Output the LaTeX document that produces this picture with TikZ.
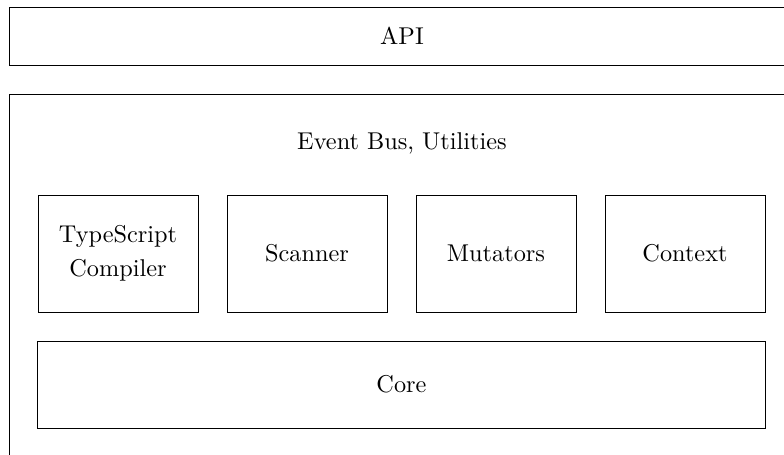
\documentclass[tikz,border=0pt]{standalone}
\usetikzlibrary{positioning}
\begin{document}
\begin{tikzpicture}[x=0.4115pt,y=-0.4115pt,
  box/.style={draw, line width=0.4pt, inner sep=0pt, align=center,
    font=\fontsize{10}{14}\selectfont},
  lbl/.style={inner sep=0pt, font=\fontsize{10}{14}\selectfont},
  comp/.style={box, minimum width=65.84pt, minimum height=48.15pt}]
\useasboundingbox (0,0) rectangle (784,455);
\clip (0,0) rectangle (784,455);
\node[box, minimum width=323.4pt, minimum height=23.87pt] (api) at (402,36) {API};
\node[box, minimum width=323.4pt, minimum height=156pt] (outer) at (402,284) {};
\node[lbl] (bus) at (402,143) {Event Bus, Utilities};
\node[comp] (ts) at (118,253.5) {TypeScript\\Compiler};
\node[comp] (scan) at (307,253.5) {Scanner};
\node[comp] (mut) at (496,253.5) {Mutators};
\node[comp] (ctx) at (685,253.5) {Context};
\node[box, minimum width=299.2pt, minimum height=35.8pt] (core) at (401.5,384.5) {Core};
\end{tikzpicture}
\end{document}
